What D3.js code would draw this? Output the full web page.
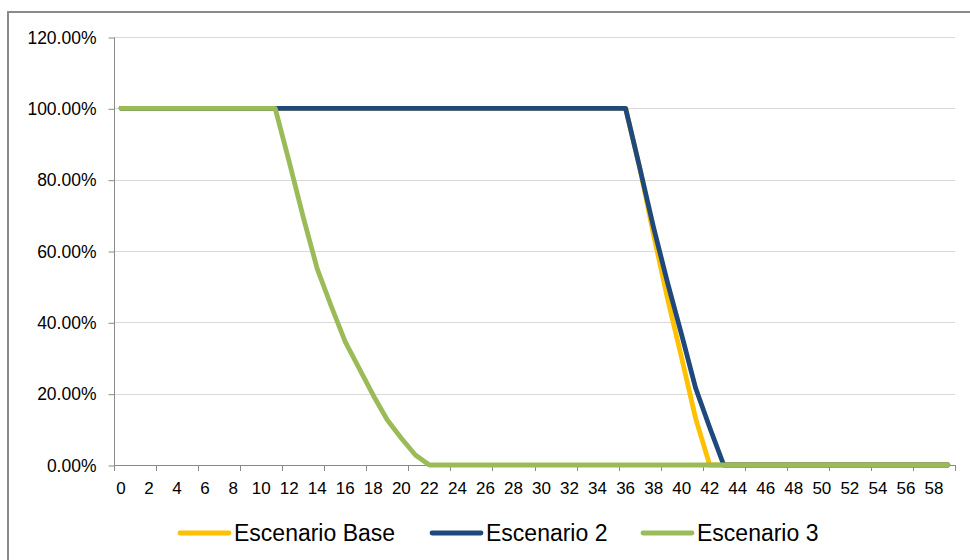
<!DOCTYPE html>
<html><head><meta charset="utf-8">
<script src="https://cdn.jsdelivr.net/npm/d3@7/dist/d3.min.js"></script>
<style>
body{margin:0;background:#fff}
svg{display:block}
text{font-family:"Liberation Sans",Arial,sans-serif;fill:#000}
</style>
</head><body>
<svg id="chart" width="970" height="560"></svg>
<script>
const categories = [0,1,2,3,4,5,6,7,8,9,10,11,12,13,14,15,16,17,18,19,20,21,22,23,24,25,26,27,28,29,
  30,31,32,33,34,35,36,37,38,39,40,41,42,43,44,45,46,47,48,49,50,51,52,53,54,55,56,57,58,59];

const escenarioBase = [100,100,100,100,100,100,100,100,100,100,100,100,100,100,100,100,100,100,100,100,
  100,100,100,100,100,100,100,100,100,100,100,100,100,100,100,100,100,83.5,64.5,46.5,
  30,13,0,0,0,0,0,0,0,0,0,0,0,0,0,0,0,0,0,0];

const escenario2 = [100,100,100,100,100,100,100,100,100,100,100,100,100,100,100,100,100,100,100,100,
  100,100,100,100,100,100,100,100,100,100,100,100,100,100,100,100,100,83.5,66.5,51,
  36.5,21.5,10.5,0,0,0,0,0,0,0,0,0,0,0,0,0,0,0,0,0];

const escenario3 = [100,100,100,100,100,100,100,100,100,100,100,100,85,69.5,55,44.5,34.5,27,19.5,12.6,
  7.5,2.8,0,0,0,0,0,0,0,0,0,0,0,0,0,0,0,0,0,0,
  0,0,0,0,0,0,0,0,0,0,0,0,0,0,0,0,0,0,0,0];

const seriesNames = ["Escenario Base", "Escenario 2", "Escenario 3"];
const seriesColors = ["#FFC000", "#1F497D", "#9BBB59"];
const yTickValues = [0, 20, 40, 60, 80, 100, 120];
const yTickLabels = ["0.00%", "20.00%", "40.00%", "60.00%", "80.00%", "100.00%", "120.00%"];
const xLabelCategories = [0,2,4,6,8,10,12,14,16,18,20,22,24,26,28,30,32,34,36,38,40,42,44,46,48,50,52,54,56,58];

const seriesData = [escenarioBase, escenario2, escenario3];

const svg = d3.select("#chart");
const mLeft = 114, mRight = 955, mTop = 37, mBottom = 465;

// outer border
svg.append("rect").attr("x", 8).attr("y", 12).attr("width", 1000).attr("height", 600)
  .attr("fill", "none").attr("stroke", "#8a8a8a").attr("stroke-width", 2);

const x = d3.scaleBand().domain(categories).range([mLeft, mRight]).padding(0);
const y = d3.scaleLinear().domain([0, 120]).range([mBottom, mTop]);

// gridlines
svg.append("g").selectAll("line").data(yTickValues.filter(v => v > 0)).join("line")
  .attr("x1", mLeft).attr("x2", mRight)
  .attr("y1", d => Math.round(y(d)) + 0.5).attr("y2", d => Math.round(y(d)) + 0.5)
  .attr("stroke", "#d9d9d9").attr("stroke-width", 1);

// y axis
const yAxis = d3.axisLeft(y).tickValues(yTickValues)
  .tickFormat((d, i) => yTickLabels[i]).tickSize(6).tickPadding(12);
const gy = svg.append("g").attr("transform", `translate(${mLeft + 0.5},0.5)`).call(yAxis);
gy.select(".domain").attr("stroke", "#8a8a8a").attr("d", `M0,${y(120)}V${y(0)}`);
gy.selectAll(".tick line").attr("stroke", "#8a8a8a");
gy.selectAll(".tick text").attr("font-size", 17.5).attr("font-family", "Liberation Sans, Arial, sans-serif").attr("fill", "#000");

// x axis line
svg.append("line").attr("x1", mLeft).attr("x2", mRight)
  .attr("y1", mBottom + 0.5).attr("y2", mBottom + 0.5).attr("stroke", "#8a8a8a");
// x ticks every 3 categories at band boundaries
const tickCats = categories.filter(c => c % 3 === 0);
svg.append("g").selectAll("line").data(tickCats).join("line")
  .attr("x1", d => Math.round(x(d)) + 0.5).attr("x2", d => Math.round(x(d)) + 0.5)
  .attr("y1", mBottom).attr("y2", mBottom + 6).attr("stroke", "#8a8a8a");
svg.append("line").attr("x1", mRight + 0.5).attr("x2", mRight + 0.5)
  .attr("y1", mBottom).attr("y2", mBottom + 6).attr("stroke", "#8a8a8a");

// x labels
svg.append("g").selectAll("text").data(xLabelCategories).join("text")
  .attr("x", d => x(d) + x.bandwidth() / 2).attr("y", 494)
  .attr("text-anchor", "middle").attr("font-size", 17)
  .text(d => String(d));

// lines
const line = d3.line()
  .x((d, i) => x(categories[i]) + x.bandwidth() / 2)
  .y(d => y(d));
svg.append("g").selectAll("path").data(seriesData).join("path")
  .attr("d", d => line(d))
  .attr("fill", "none")
  .attr("stroke", (d, i) => seriesColors[i])
  .attr("stroke-width", 4.8)
  .attr("stroke-linejoin", "round")
  .attr("stroke-linecap", "round");

// legend
const legendX = [180, 432, 643];
const lg = svg.append("g").selectAll("g").data(seriesNames).join("g")
  .attr("transform", (d, i) => `translate(${legendX[i]},533)`);
lg.append("line").attr("x1", 0).attr("x2", 49).attr("y1", 0).attr("y2", 0)
  .attr("stroke", (d, i) => seriesColors[i]).attr("stroke-width", 4.8).attr("stroke-linecap", "round");
lg.append("text").attr("x", 54).attr("y", 8).attr("font-size", 23).text(d => d);
</script>
</body></html>
